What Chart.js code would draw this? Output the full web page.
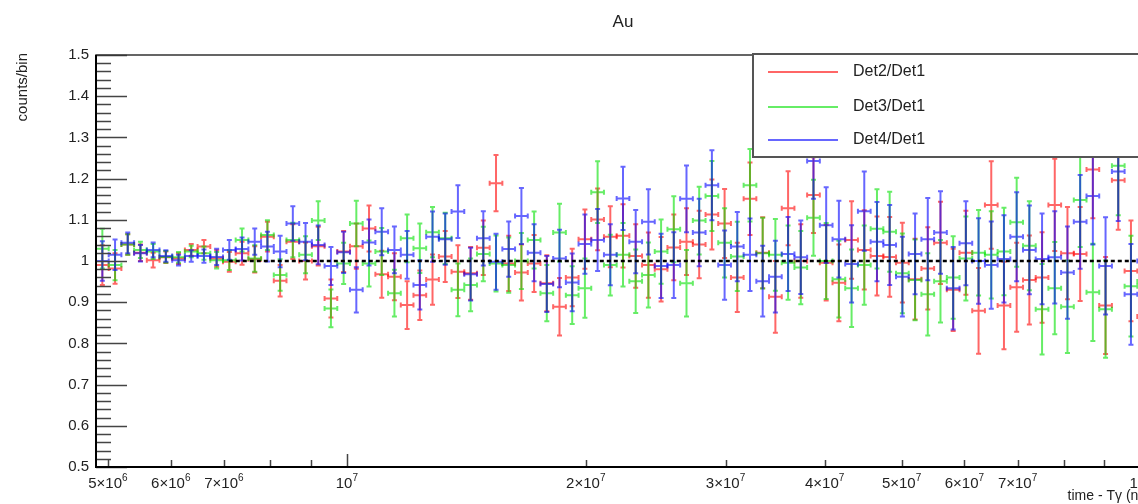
<!DOCTYPE html>
<html>
<head>
<meta charset="utf-8">
<script src="https://cdn.jsdelivr.net/npm/chart.js@4/dist/chart.umd.min.js"></script>
<style>
  html, body { margin: 0; padding: 0; background: #fff; overflow: hidden; }
  #wrap { width: 1244px; height: 504px; }
</style>
</head>
<body>
<div id="wrap"><canvas id="c" width="1244" height="504"></canvas></div>
<script>
// histogram binning: equal width in log10(time)
const xLow = 4.83e6;
const binDec = 0.016;
const nBins = 83;
const xHigh = xLow * Math.pow(10, nBins * binDec);

// ratio values per bin
const det2 = [0.99, 0.982, 1.04, 1.02, 1.002, 1.009, 1.006, 1.027, 1.035, 1.006,
  0.998, 1.019, 1.004, 1.059, 0.952, 1.047, 1.0, 1.036, 0.909, 1.023,
  1.036, 1.079, 0.968, 0.962, 0.893, 0.917, 0.955, 1.011, 0.974, 0.97,
  1.032, 1.189, 0.994, 0.972, 0.994, 0.946, 0.889, 0.96, 1.053, 1.101,
  1.059, 1.061, 1.012, 0.99, 0.98, 1.033, 1.047, 1.04, 1.113, 1.091,
  0.96, 1.151, 1.02, 0.913, 1.128, 1.0, 1.16, 0.996, 0.947, 1.051,
  1.027, 1.012, 1.01, 0.996, 0.956, 0.982, 1.044, 0.93, 1.02, 0.879,
  1.136, 0.892, 0.936, 0.954, 0.96, 1.136, 1.019, 1.017, 1.222, 0.892,
  1.196, 0.976, 0.865];
const det3 = [1.03, 0.99, 1.04, 1.027, 1.023, 1.01, 1.009, 1.023, 1.019, 1.002,
  1.002, 1.051, 1.006, 1.063, 0.966, 1.051, 1.015, 1.098, 0.885, 0.994,
  1.091, 0.994, 1.023, 0.922, 1.055, 1.031, 1.07, 1.055, 0.93, 0.942,
  1.017, 0.994, 0.99, 1.0, 1.051, 0.922, 1.069, 0.917, 0.934, 1.167,
  0.99, 1.015, 0.951, 0.966, 1.023, 1.077, 0.946, 1.098, 1.158, 1.044,
  1.011, 1.184, 1.019, 1.015, 0.996, 0.984, 1.105, 1.0, 0.956, 0.934,
  0.99, 1.078, 1.071, 0.97, 0.954, 0.919, 0.951, 0.96, 1.006, 1.02,
  1.015, 1.023, 1.094, 1.037, 0.883, 0.934, 0.889, 1.148, 0.924, 0.883,
  1.231, 0.939, 0.95];
const det4 = [1.0, 1.015, 1.044, 1.019, 1.027, 1.012, 1.002, 1.012, 1.012, 1.01,
  1.027, 1.029, 1.047, 1.035, 1.023, 1.091, 1.047, 1.039, 0.988, 1.021,
  0.93, 1.045, 1.071, 1.027, 1.015, 0.942, 1.059, 1.053, 1.12, 0.968,
  1.055, 0.998, 1.029, 1.109, 1.02, 0.944, 1.006, 0.948, 1.041, 1.051,
  1.015, 1.152, 1.047, 1.095, 0.988, 0.99, 1.151, 1.069, 1.184, 0.99,
  1.035, 1.015, 0.951, 0.962, 1.017, 1.009, 1.243, 1.087, 1.053, 0.993,
  1.121, 1.047, 1.039, 0.962, 1.017, 1.053, 1.069, 0.934, 1.043, 1.0,
  0.99, 1.005, 1.059, 1.027, 1.005, 1.009, 0.972, 1.095, 1.158, 0.988,
  1.217, 0.919, 1.0];
// half-length of the vertical error bars
const binErr = [0.048, 0.037, 0.025, 0.02, 0.018, 0.014, 0.013, 0.014, 0.016, 0.02,
  0.024, 0.028, 0.032, 0.036, 0.038, 0.042, 0.045, 0.047, 0.046, 0.05,
  0.055, 0.056, 0.057, 0.057, 0.058, 0.06, 0.061, 0.062, 0.064, 0.064,
  0.066, 0.068, 0.067, 0.068, 0.069, 0.068, 0.07, 0.07, 0.072, 0.075,
  0.074, 0.077, 0.077, 0.079, 0.078, 0.08, 0.081, 0.082, 0.085, 0.084,
  0.084, 0.088, 0.086, 0.087, 0.09, 0.089, 0.092, 0.092, 0.093, 0.094,
  0.096, 0.096, 0.097, 0.097, 0.098, 0.1, 0.1, 0.1, 0.102, 0.104,
  0.106, 0.106, 0.108, 0.108, 0.11, 0.112, 0.112, 0.114, 0.118, 0.118,
  0.12, 0.122, 0.124];

const seriesNames = ['Det2/Det1', 'Det3/Det1', 'Det4/Det1'];
const seriesColors = ['rgba(255,0,0,0.6)', 'rgba(0,225,0,0.6)', 'rgba(0,0,255,0.6)'];
const refLevel = 1;
const refStart = 7.1e6;

const yLabels = ['0.5', '0.6', '0.7', '0.8', '0.9', '1', '1.1', '1.2', '1.3', '1.4', '1.5'];
const xLabelVals = [5e6, 6e6, 7e6, 1e7, 2e7, 3e7, 4e7, 5e7, 6e7, 7e7, 1e8];
const xLabelBase = ['5×10', '6×10', '7×10', '10', '2×10', '3×10', '4×10', '5×10', '6×10', '7×10', '10'];
const xLabelExp = ['6', '6', '6', '7', '7', '7', '7', '7', '7', '7', '8'];
const xTickVals = [5e6, 6e6, 7e6, 8e6, 9e6, 1e7, 2e7, 3e7, 4e7, 5e7, 6e7, 7e7, 8e7, 9e7, 1e8];

const FONT = '"Liberation Sans", Arial, sans-serif';

function binEdge(k) { return xLow * Math.pow(10, k * binDec); }

function makePoints(vals) {
  return vals.map((v, k) => ({
    x: Math.sqrt(binEdge(k) * binEdge(k + 1)),
    y: v,
    xLo: binEdge(k),
    xHi: binEdge(k + 1),
    err: binErr[k]
  }));
}

const errorBars = {
  id: 'errorBars',
  beforeDatasetsDraw(chart) {
    const ctx = chart.ctx, xs = chart.scales.x, ys = chart.scales.y, a = chart.chartArea;
    ctx.save();
    ctx.beginPath();
    ctx.rect(a.left, a.top, a.right - a.left, a.bottom - a.top);
    ctx.clip();
    ctx.lineWidth = 2;
    chart.data.datasets.forEach(ds => {
      if (!ds.errBars) return;
      ctx.strokeStyle = ds.borderColor;
      ds.data.forEach(p => {
        const xl = xs.getPixelForValue(p.xLo), xr = xs.getPixelForValue(p.xHi);
        const xc = xs.getPixelForValue(p.x);
        const yc = ys.getPixelForValue(p.y);
        const yt = ys.getPixelForValue(p.y + p.err), yb = ys.getPixelForValue(p.y - p.err);
        ctx.beginPath();
        ctx.moveTo(xl, yc); ctx.lineTo(xr, yc);
        ctx.moveTo(xl, yc - 2.5); ctx.lineTo(xl, yc + 2.5);
        ctx.moveTo(xr, yc - 2.5); ctx.lineTo(xr, yc + 2.5);
        ctx.moveTo(xc, yt); ctx.lineTo(xc, yb);
        ctx.moveTo(xc - 2.5, yt); ctx.lineTo(xc + 2.5, yt);
        ctx.moveTo(xc - 2.5, yb); ctx.lineTo(xc + 2.5, yb);
        ctx.stroke();
      });
    });
    ctx.restore();
  }
};

// ROOT-like frame, inward ticks, labels and legend
const rootFrame = {
  id: 'rootFrame',
  afterDraw(chart) {
    const ctx = chart.ctx, xs = chart.scales.x, ys = chart.scales.y, a = chart.chartArea;
    ctx.save();

    // ticks
    ctx.strokeStyle = '#444';
    ctx.lineWidth = 1.5;
    ctx.beginPath();
    for (let i = 0; i <= 50; i++) {
      const py = Math.round(ys.getPixelForValue(0.5 + i * 0.02)) + 0.5;
      const len = i % 5 === 0 ? 31 : 15;
      ctx.moveTo(a.left, py); ctx.lineTo(a.left + len, py);
    }
    xTickVals.forEach(v => {
      const px = Math.round(xs.getPixelForValue(v)) + 0.5;
      const len = (v === 1e7 || v === 1e8) ? 13 : 7;
      ctx.moveTo(px, a.bottom); ctx.lineTo(px, a.bottom - len);
    });
    ctx.stroke();

    // frame
    ctx.strokeStyle = '#333';
    ctx.lineWidth = 1.5;
    ctx.strokeRect(a.left, a.top, a.right - a.left, a.bottom - a.top);
    ctx.strokeStyle = '#000';
    ctx.lineWidth = 2;
    ctx.beginPath();
    ctx.moveTo(a.left, a.top); ctx.lineTo(a.left, a.bottom); ctx.lineTo(a.right, a.bottom);
    ctx.stroke();

    // y labels
    ctx.fillStyle = '#222';
    ctx.font = '15px ' + FONT;
    ctx.textAlign = 'right';
    ctx.textBaseline = 'middle';
    yLabels.forEach(t => ctx.fillText(t, 89, ys.getPixelForValue(parseFloat(t))));

    // x labels with superscript exponent
    ctx.textBaseline = 'alphabetic';
    ctx.textAlign = 'left';
    xLabelVals.forEach((v, i) => {
      ctx.font = '15px ' + FONT;
      const wb = ctx.measureText(xLabelBase[i]).width;
      ctx.font = '10px ' + FONT;
      const we = ctx.measureText(xLabelExp[i]).width;
      const x0 = xs.getPixelForValue(v) - (wb + we) / 2;
      ctx.font = '15px ' + FONT;
      ctx.fillText(xLabelBase[i], x0, 488);
      ctx.font = '10px ' + FONT;
      ctx.fillText(xLabelExp[i], x0 + wb, 481);
    });

    // axis titles
    ctx.font = '14px ' + FONT;
    ctx.textAlign = 'right';
    ctx.fillText('time - Tγ (ns)', a.right, 500);
    ctx.save();
    ctx.translate(23, 53);
    ctx.rotate(-Math.PI / 2);
    ctx.font = '15px ' + FONT;
    ctx.textAlign = 'right';
    ctx.textBaseline = 'middle';
    ctx.fillText('counts/bin', 0, 0);
    ctx.restore();

    // legend box
    const lx = 753, ly = 54, lw = 430, lh = 103;
    ctx.fillStyle = '#fff';
    ctx.fillRect(lx, ly, lw, lh);
    ctx.strokeStyle = '#555';
    ctx.lineWidth = 2;
    ctx.strokeRect(lx, ly, lw, lh);
    const rows = [72, 107, 140];
    ctx.font = '16px ' + FONT;
    ctx.textAlign = 'left';
    ctx.textBaseline = 'middle';
    seriesNames.forEach((n, i) => {
      ctx.strokeStyle = seriesColors[i];
      ctx.lineWidth = 2;
      ctx.beginPath();
      ctx.moveTo(768, rows[i]); ctx.lineTo(838, rows[i]);
      ctx.stroke();
      ctx.fillStyle = '#222';
      ctx.fillText(n, 853, rows[i]);
    });
    ctx.restore();
  }
};

const datasets = [det2, det3, det4].map((vals, i) => ({
  label: seriesNames[i],
  data: makePoints(vals),
  borderColor: seriesColors[i],
  backgroundColor: seriesColors[i],
  pointRadius: 0,
  showLine: false,
  errBars: true
}));
datasets.push({
  label: 'ref',
  data: [{ x: refStart, y: refLevel }, { x: xHigh, y: refLevel }],
  showLine: true,
  borderColor: '#000',
  borderWidth: 2.5,
  borderDash: [4, 3],
  pointRadius: 0
});

new Chart(document.getElementById('c'), {
  type: 'scatter',
  data: { datasets },
  options: {
    responsive: false,
    animation: false,
    devicePixelRatio: 1,
    layout: { padding: { left: 96, right: 94, top: 0, bottom: 37 } },
    scales: {
      x: { type: 'logarithmic', min: xLow, max: xHigh, display: false },
      y: { type: 'linear', min: 0.5, max: 1.5, display: false }
    },
    plugins: {
      legend: { display: false },
      tooltip: { enabled: false },
      title: {
        display: true,
        text: 'Au',
        color: '#222',
        font: { family: FONT, size: 17, weight: 'normal', lineHeight: 1.2 },
        padding: { top: 12, bottom: 22.6 }
      }
    }
  },
  plugins: [errorBars, rootFrame]
});
</script>
</body>
</html>
